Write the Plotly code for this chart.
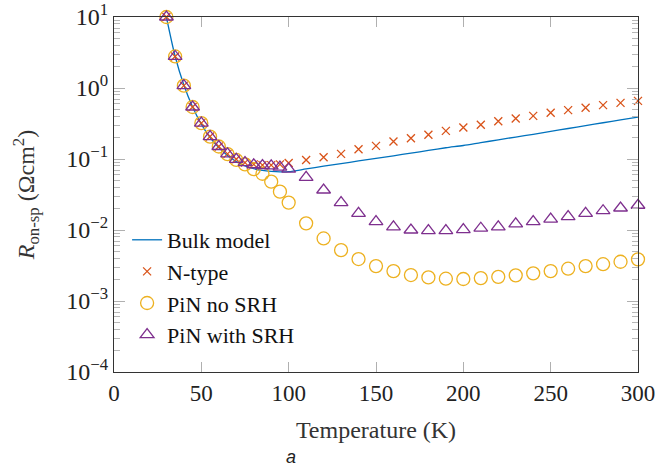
import plotly.graph_objects as go

# Temperatures (K)
T = [30, 35, 40, 45, 50, 55, 60, 65, 70, 75, 80, 85, 90, 95, 100,
     110, 120, 130, 140, 150, 160, 170, 180, 190, 200,
     210, 220, 230, 240, 250, 260, 270, 280, 290, 300]

bulk_model = [10.0, 2.8, 1.1, 0.54, 0.31, 0.2, 0.145, 0.112, 0.092, 0.080, 0.073, 0.069, 0.067, 0.066, 0.0664,
              0.0724, 0.0791, 0.0861, 0.0938, 0.102, 0.111, 0.121, 0.132, 0.144, 0.155,
              0.170, 0.186, 0.204, 0.223, 0.245, 0.269, 0.295, 0.324, 0.355, 0.389]

n_type = [10.0, 2.78, 1.08, 0.54, 0.32, 0.207, 0.150, 0.118, 0.099, 0.089, 0.084, 0.082, 0.082, 0.084, 0.088,
          0.097, 0.106, 0.118, 0.137, 0.153, 0.176, 0.196, 0.219, 0.249, 0.277,
          0.303, 0.341, 0.371, 0.405, 0.447, 0.488, 0.526, 0.574, 0.618, 0.659]

pin_no_srh = [10.0, 2.78, 1.08, 0.54, 0.32, 0.207, 0.150, 0.117, 0.097, 0.084, 0.072, 0.062, 0.048, 0.0347, 0.0243,
              0.0124, 0.0076, 0.0052, 0.0039, 0.0031, 0.00264, 0.00232, 0.00215, 0.00206, 0.00204,
              0.0021, 0.00219, 0.0023, 0.00245, 0.00264, 0.00285, 0.0031, 0.0033, 0.00357, 0.00386]

pin_with_srh = [10.0, 2.78, 1.08, 0.54, 0.32, 0.207, 0.150, 0.118, 0.099, 0.089, 0.083, 0.081, 0.080, 0.077, 0.072,
                0.055, 0.0366, 0.0243, 0.0172, 0.0131, 0.0111, 0.0100, 0.0098, 0.0098, 0.0101,
                0.0106, 0.0111, 0.0122, 0.0131, 0.0142, 0.0154, 0.0172, 0.0187, 0.0204, 0.0223]

y_tick_vals = [1e-4, 1e-3, 1e-2, 1e-1, 1e0, 1e1]
y_tick_text = ["10<sup>−4</sup>", "10<sup>−3</sup>", "10<sup>−2</sup>",
               "10<sup>−1</sup>", "10<sup>0</sup>", "10<sup>1</sup>"]
x_tick_vals = [0, 50, 100, 150, 200, 250, 300]

minor_vals = [m * 10 ** e for e in range(-4, 1) for m in range(2, 10)]

SERIF = "Liberation Serif"

fig = go.Figure()
fig.add_trace(go.Scatter(x=T, y=bulk_model, mode="lines", name="Bulk model",
                         line=dict(color="#0072BD", width=1.3, shape="spline", smoothing=0.8)))
fig.add_trace(go.Scatter(x=T, y=n_type, mode="markers", name="N-type", cliponaxis=False,
                         marker=dict(symbol="x-thin-open", size=8, color="#D95319",
                                     line=dict(color="#D95319", width=1.3))))
fig.add_trace(go.Scatter(x=T, y=pin_no_srh, mode="markers", name="PiN no SRH", cliponaxis=False,
                         marker=dict(symbol="circle-open", size=13, color="#EDB120",
                                     line=dict(color="#EDB120", width=1.3))))
fig.add_trace(go.Scatter(x=T, y=pin_with_srh, mode="markers", name="PiN with SRH", cliponaxis=False,
                         marker=dict(symbol="triangle-up-open", size=12, color="#7E2F8E",
                                     line=dict(color="#7E2F8E", width=1.3))))

fig.update_layout(
    width=659, height=471,
    margin=dict(l=114, r=21, t=17, b=99, autoexpand=False),
    paper_bgcolor="white", plot_bgcolor="white",
    font=dict(family=SERIF, size=22, color="#222"),
    showlegend=True,
    legend=dict(x=0.025, y=0.431, xanchor="left", yanchor="top",
                bgcolor="rgba(255,255,255,0)", font=dict(family=SERIF, size=22, color="#111"),
                tracegroupgap=0, itemwidth=30),
    xaxis=dict(range=[0, 300], tickvals=x_tick_vals, ticks="inside", ticklen=10,
               tickcolor="#b0b0b0", tickwidth=1, showline=True, linecolor="#333",
               linewidth=1.2, mirror="allticks", showgrid=False, zeroline=False,
               automargin=False,
               tickfont=dict(family=SERIF, size=23, color="#222"),
               title=dict(text="Temperature (K)", font=dict(family=SERIF, size=24, color="#333"),
                          standoff=16)),
    yaxis=dict(type="log", range=[-4, 1], tickvals=y_tick_vals, ticktext=y_tick_text,
               ticks="inside", ticklen=11, tickcolor="#b0b0b0", tickwidth=1,
               showline=True, linecolor="#333", linewidth=1.2, mirror="allticks",
               showgrid=False, zeroline=False, automargin=False,
               minor=dict(tickvals=minor_vals, ticks="inside", ticklen=6,
                          tickcolor="#b8b8b8", tickwidth=1, showgrid=False),
               tickfont=dict(family=SERIF, size=24, color="#222"),
               title=dict(text="<i>R</i><sub>on-sp</sub> (Ωcm<sup>2</sup>)",
                          font=dict(family=SERIF, size=24, color="#333"), standoff=24)),
    annotations=[dict(text="<i>a</i>", x=(291 - 114) / 524, y=-(457 - 372) / 355,
                      xref="paper", yref="paper", showarrow=False, yanchor="middle",
                      font=dict(family="Liberation Sans", size=18, color="#222"))],
)

fig.write_html("out.html")
